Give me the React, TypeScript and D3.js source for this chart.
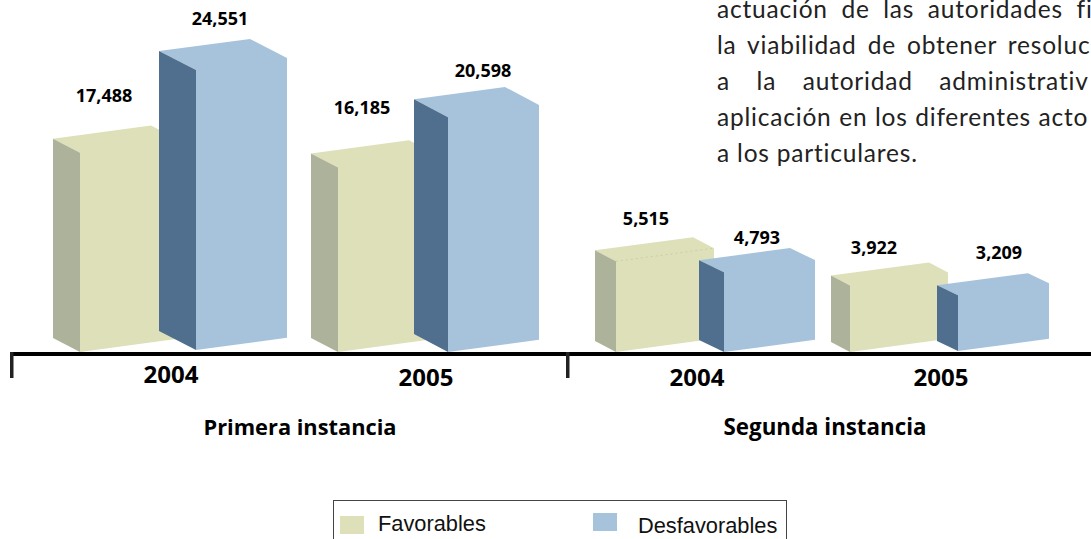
import { useEffect, useRef } from "react";
import { select, scaleLinear, scalePoint, format, path } from "d3";

// values
const years = ["2004", "2005"];
const series = ["Favorables", "Desfavorables"];
const primeraFavorables = [17488, 16185];
const primeraDesfavorables = [24551, 20598];
const segundaFavorables = [5515, 3922];
const segundaDesfavorables = [4793, 3209];
const bodyLines = [
  "actuación de las autoridades fi",
  "la viabilidad de obtener resoluc",
  "a la autoridad administrativ",
  "aplicación en los diferentes acto",
  "a los particulares.",
];

const width = 1091;
const height = 539;
const baseline = 352;
const font = "'Open Sans', 'Noto Sans', sans-serif";
const faceColors = ["#dde0b8", "#a7c3dc"];
const sideColors = ["#adb39b", "#506f8e"];
const frontWidths = [98, 91];
const slope = 13 / 97;
const bodyWordSpacing = [6.5, 4, 19.5, 0.5, 0];

// one layout per instancia, per bar tables are [year][series]
const panels = [
  {
    title: "Primera instancia",
    titleX: 300,
    titleSize: 21.8,
    values: [primeraFavorables, primeraDesfavorables],
    yScale: scaleLinear().domain([0, 25000]).range([0, 285]),
    xRange: [53, 311],
    depth: [[[27, 14], [37, 19]], [[27, 14], [34, 18]]],
    nudge: [[[0, 0], [1, -2]], [[0, 0], [-2, 0]]],
    yearX: [171, 426],
    yearY: [383, 386],
    // label centre from the bar's left edge, label baseline above the front top
    labels: [[[51, 51], [61, 45]], [[51, 53], [69, 40]]],
  },
  {
    title: "Segunda instancia",
    titleX: 825,
    titleSize: 22.3,
    values: [segundaFavorables, segundaDesfavorables],
    yScale: scaleLinear().domain([0, 6000]).range([7, 98]),
    xRange: [595, 831],
    depth: [[[21, 11], [25, 12]], [[19, 10], [21, 10]]],
    nudge: [[[0, 0], [-1, 0]], [[0, 0], [1, -1]]],
    yearX: [697, 941],
    yearY: [386, 386],
    labels: [[[51, 36], [58, 28]], [[43, 32], [62, 36]]],
  },
];

const seriesOffset = scalePoint().domain(series).range([0, 105]);

const polygon = (pts: number[][]) => {
  const p = path();
  pts.forEach(([x, y], i) => (i ? p.lineTo(x, y) : p.moveTo(x, y)));
  p.closePath();
  return p.toString();
};

const App = () => {
  const svgRef = useRef<SVGSVGElement>(null);

  useEffect(() => {
    const svg = select(svgRef.current);
    svg.selectAll("*").remove();
    const fmt = format(",");

    panels.forEach((panel, pi) => {
      const xScale = scalePoint().domain(years).range(panel.xRange);

      years.forEach((year, yi) => {
        series.forEach((name, si) => {
          const value = panel.values[si][yi];
          const [nx, ny] = panel.nudge[yi][si];
          const bottom = baseline + ny;
          const top = bottom - panel.yScale(value);
          const left = xScale(year)! + seriesOffset(name)! + nx;
          const [dx, dy] = panel.depth[yi][si];
          const fw = frontWidths[si];
          const rise = fw * slope;
          const fx = left + dx;
          const g = svg.append("g");

          // front and top share a colour, so one outline
          g.append("path")
            .attr("fill", faceColors[si])
            .attr("d", polygon([
              [left, top - dy],
              [left + fw, top - dy - rise],
              [fx + fw, top - rise],
              [fx + fw, bottom - rise],
              [fx, bottom],
              [fx, top],
            ]));
          // side face
          g.append("path")
            .attr("fill", sideColors[si])
            .attr("d", polygon([[left, top - dy], [fx, top], [fx, bottom], [left, bottom - dy]]));

          // faint seam on the first bar of segunda instancia
          if (pi === 1 && yi === 0 && si === 0) {
            g.append("line")
              .attr("x1", fx).attr("y1", top)
              .attr("x2", fx + fw).attr("y2", top - rise)
              .attr("stroke", "#cdd0a6").attr("stroke-dasharray", "2 3");
          }

          const [lx, ly] = panel.labels[yi][si];
          g.append("text")
            .attr("x", left + lx)
            .attr("y", top - ly)
            .attr("text-anchor", "middle")
            .attr("font-family", font)
            .attr("font-weight", 700)
            .attr("font-size", 18)
            .attr("fill", "#000")
            .text(fmt(value));
        });

        svg.append("text")
          .attr("x", panel.yearX[yi])
          .attr("y", panel.yearY[yi])
          .attr("text-anchor", "middle")
          .attr("font-family", font)
          .attr("font-weight", 700)
          .attr("font-size", 24)
          .attr("fill", "#000")
          .text(year);
      });

      svg.append("text")
        .attr("x", panel.titleX)
        .attr("y", 435)
        .attr("text-anchor", "middle")
        .attr("font-family", font)
        .attr("font-weight", 700)
        .attr("font-size", panel.titleSize)
        .attr("fill", "#000")
        .text(panel.title);
    });

    // axis bar and the two brackets
    svg.append("rect").attr("x", 10).attr("y", 352).attr("width", width - 10).attr("height", 4).attr("fill", "#000");
    [10, 566].forEach((x) => {
      svg.append("rect").attr("x", x).attr("y", 352).attr("width", 3.5).attr("height", 26).attr("fill", "#222");
    });

    // body text, the reference cuts it at the page edge
    svg.selectAll(".body")
      .data(bodyLines)
      .enter()
      .append("text")
      .attr("x", 717)
      .attr("y", (_, i) => 18 + i * 36)
      .attr("font-family", "Lato, sans-serif")
      .attr("font-size", 24.5)
      .attr("letter-spacing", 0.8)
      .attr("fill", "#222")
      .attr("word-spacing", (_, i) => bodyWordSpacing[i])
      .text((d) => d);

    // legend
    svg.append("rect")
      .attr("x", 333.5).attr("y", 500.5).attr("width", 453).attr("height", 60)
      .attr("fill", "none").attr("stroke", "#444");
    const legendX = [340, 593];
    const legendY = [516, 513];
    const legendTextX = [378, 638];
    const legendTextY = [531, 533];
    series.forEach((name, i) => {
      svg.append("rect")
        .attr("x", legendX[i]).attr("y", legendY[i]).attr("width", 24).attr("height", 18)
        .attr("fill", faceColors[i]);
      svg.append("text")
        .attr("x", legendTextX[i]).attr("y", legendTextY[i])
        .attr("font-family", "'Liberation Sans', Arial, sans-serif")
        .attr("font-size", 21.8)
        .attr("fill", "#111")
        .text(name);
    });
  }, []);

  return (
    <svg
      ref={svgRef}
      width={width}
      height={height}
      viewBox={`0 0 ${width} ${height}`}
      style={{ position: "absolute", left: 0, top: 0, background: "#fff" }}
    />
  );
};

export default App;
